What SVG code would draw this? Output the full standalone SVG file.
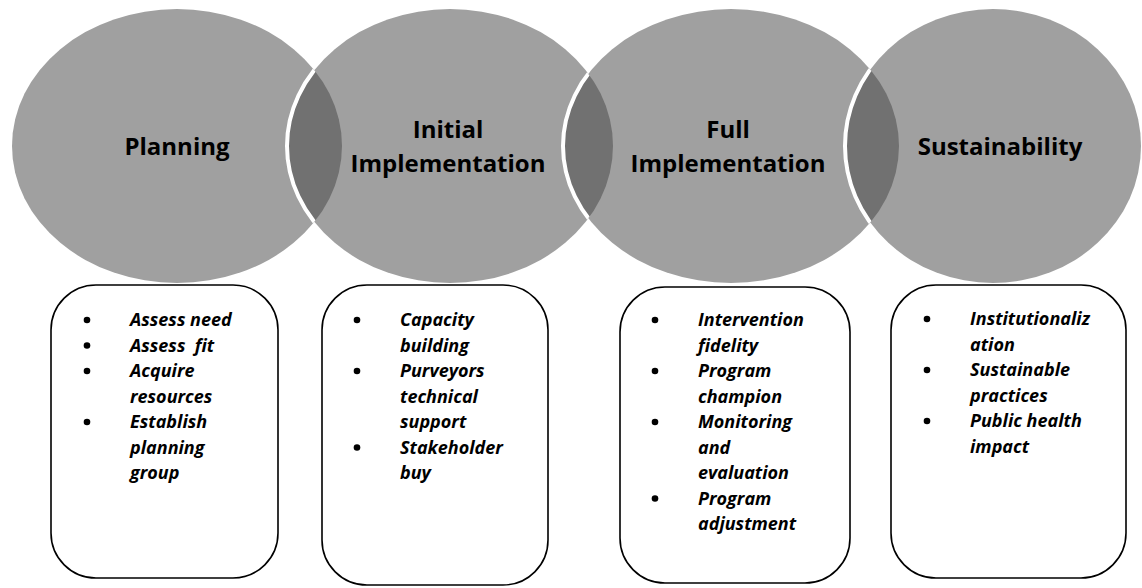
<svg xmlns="http://www.w3.org/2000/svg" width="1142" height="588" viewBox="0 0 1142 588">
<defs>
<style>
.stage{fill:#a0a0a0;}
.lens{fill:#717171;stroke:#ffffff;stroke-width:4;}
.title{font-family:"Open Sans","Liberation Sans",sans-serif;font-weight:bold;font-size:24px;fill:#000;text-anchor:middle;}
.box{fill:#fff;stroke:#000;stroke-width:1.6;}
.item{font-family:"Open Sans","Liberation Sans",sans-serif;font-weight:bold;font-style:italic;font-size:18px;fill:#000;}
.dot{fill:#000;}
</style>
<clipPath id="clip1"><ellipse cx="177" cy="146" rx="165" ry="137"/></clipPath>
<clipPath id="clip2"><ellipse cx="450" cy="146" rx="163" ry="137"/></clipPath>
<clipPath id="clip3"><ellipse cx="731" cy="146" rx="168" ry="137"/></clipPath>
</defs>
<rect width="1142" height="588" fill="#fff"/>

<g id="circles">
<ellipse class="stage" cx="177" cy="146" rx="165" ry="137"/>
<ellipse class="stage" cx="450" cy="146" rx="163" ry="137"/>
<ellipse class="stage" cx="731" cy="146" rx="168" ry="137"/>
<ellipse class="stage" cx="993" cy="146" rx="148" ry="137"/>
<g clip-path="url(#clip1)"><ellipse class="lens" cx="450" cy="146" rx="163" ry="137"/></g>
<g clip-path="url(#clip2)"><ellipse class="lens" cx="731" cy="146" rx="168" ry="137"/></g>
<g clip-path="url(#clip3)"><ellipse class="lens" cx="993" cy="146" rx="148" ry="137"/></g>
</g>

<g id="stage-planning"><text class="title" x="177" y="155">Planning</text></g>
<g id="stage-initial"><text class="title" x="448" y="138">Initial</text><text class="title" x="448" y="172">Implementation</text></g>
<g id="stage-full"><text class="title" x="728" y="138">Full</text><text class="title" x="728" y="172">Implementation</text></g>
<g id="stage-sustain"><text class="title" x="1000" y="155">Sustainability</text></g>

<g id="connectors"/>

<g id="box-planning">
<rect class="box" x="51" y="285" width="227" height="293" rx="45" ry="45"/>
<circle class="dot" cx="87" cy="320" r="3.3"/>
<circle class="dot" cx="87" cy="345.5" r="3.3"/>
<circle class="dot" cx="87" cy="371" r="3.3"/>
<circle class="dot" cx="87" cy="422" r="3.3"/>
<text class="item" x="130" y="326">Assess need</text>
<text class="item" x="130" y="351.5">Assess&#160; fit</text>
<text class="item" x="130" y="377">Acquire</text>
<text class="item" x="130" y="402.5">resources</text>
<text class="item" x="130" y="428">Establish</text>
<text class="item" x="130" y="453.5">planning</text>
<text class="item" x="130" y="479">group</text>
</g>

<g id="box-initial">
<rect class="box" x="322" y="285" width="226" height="300" rx="45" ry="45"/>
<circle class="dot" cx="357" cy="320" r="3.3"/>
<circle class="dot" cx="357" cy="371" r="3.3"/>
<circle class="dot" cx="357" cy="447.5" r="3.3"/>
<text class="item" x="400" y="326">Capacity</text>
<text class="item" x="400" y="351.5">building</text>
<text class="item" x="400" y="377">Purveyors</text>
<text class="item" x="400" y="402.5">technical</text>
<text class="item" x="400" y="428">support</text>
<text class="item" x="400" y="453.5">Stakeholder</text>
<text class="item" x="400" y="479">buy</text>
</g>

<g id="box-full">
<rect class="box" x="620" y="287" width="230" height="296" rx="45" ry="45"/>
<circle class="dot" cx="655" cy="320" r="3.3"/>
<circle class="dot" cx="655" cy="371" r="3.3"/>
<circle class="dot" cx="655" cy="422" r="3.3"/>
<circle class="dot" cx="655" cy="498.5" r="3.3"/>
<text class="item" x="698" y="326">Intervention</text>
<text class="item" x="698" y="351.5">fidelity</text>
<text class="item" x="698" y="377">Program</text>
<text class="item" x="698" y="402.5">champion</text>
<text class="item" x="698" y="428">Monitoring</text>
<text class="item" x="698" y="453.5">and</text>
<text class="item" x="698" y="479">evaluation</text>
<text class="item" x="698" y="504.5">Program</text>
<text class="item" x="698" y="530">adjustment</text>
</g>

<g id="box-sustain">
<rect class="box" x="891" y="285" width="235" height="293" rx="45" ry="45"/>
<circle class="dot" cx="927" cy="319" r="3.3"/>
<circle class="dot" cx="927" cy="370" r="3.3"/>
<circle class="dot" cx="927" cy="421" r="3.3"/>
<text class="item" x="970" y="325">Institutionaliz</text>
<text class="item" x="970" y="350.5">ation</text>
<text class="item" x="970" y="376">Sustainable</text>
<text class="item" x="970" y="401.5">practices</text>
<text class="item" x="970" y="427">Public health</text>
<text class="item" x="970" y="452.5">impact</text>
</g>
</svg>
